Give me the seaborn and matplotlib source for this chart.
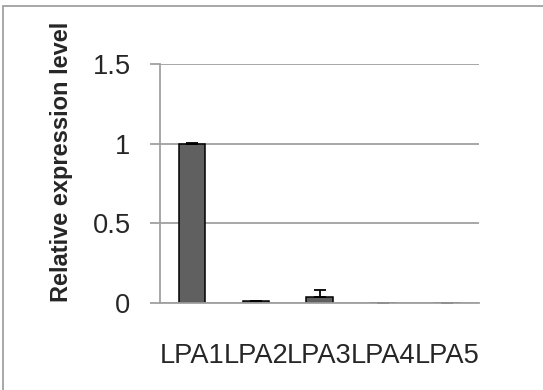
import matplotlib
matplotlib.use("Agg")
import matplotlib.pyplot as plt
import matplotlib.patches as mpatches
import numpy as np
import pandas as pd
import seaborn as sns

genes = ["LPA1", "LPA2", "LPA3", "LPA4", "LPA5"]
expression = [1.0, 0.01, 0.037, 0.002, 0.002]
err_up = [0.004, 0.004, 0.045, 0.0, 0.0]
yticks = [0, 0.5, 1, 1.5]
yticklabels = ["0", "0.5", "1", "1.5"]

df = pd.DataFrame({"gene": genes, "level": expression})

sns.set_style("white")
plt.rcParams["font.family"] = ["Liberation Sans", "DejaVu Sans"]

fig = plt.figure(figsize=(5.43, 3.90), dpi=100)
ax = fig.add_axes([160 / 543, 1 - 303 / 390, 319 / 543, 239 / 390])

sns.barplot(data=df, x="gene", y="level", color="#606060", saturation=1,
            width=0.41, edgecolor="black", linewidth=1.1, errorbar=None, ax=ax)
ax.errorbar(np.arange(len(genes)), expression, yerr=[[0] * len(genes), err_up],
            fmt="none", ecolor="black", elinewidth=1.3, capsize=4.3, capthick=1.3)

ax.set_xlim(-0.5, 4.5)
ax.set_ylim(0, 1.5)
ax.set_yticks(yticks)
ax.set_yticklabels(yticklabels)
ax.yaxis.grid(True, color="#a0a0a0", linewidth=1.3)
ax.set_axisbelow(True)

for side in ["top", "right"]:
    ax.spines[side].set_visible(False)
for side in ["left", "bottom"]:
    ax.spines[side].set_color("#a0a0a0")
    ax.spines[side].set_linewidth(1.3)

ax.set_xticks(np.arange(-0.5, 5, 1), minor=True)
ax.tick_params(axis="x", which="major", length=0, pad=29, labelsize=19.6)
ax.tick_params(axis="x", which="minor", length=7.2, width=1.3, color="#a0a0a0", direction="out")
ax.tick_params(axis="y", which="major", length=7.2, width=1.3, color="#a0a0a0",
               direction="out", pad=14, labelsize=19.6, left=True)

ax.set_xlabel("")
ax.set_ylabel("Relative expression level", fontsize=17, fontweight="bold")
ax.yaxis.set_label_coords(-(160 - 73) / 319, (303 - 162) / 239)

fig.patches.append(mpatches.Rectangle((3 / 543, -0.1), 1.2, 1 - 6 / 390 + 0.1,
                                      transform=fig.transFigure, fill=False,
                                      edgecolor="#a0a0a0", linewidth=1.3))

fig.savefig("out.png", dpi=100)
